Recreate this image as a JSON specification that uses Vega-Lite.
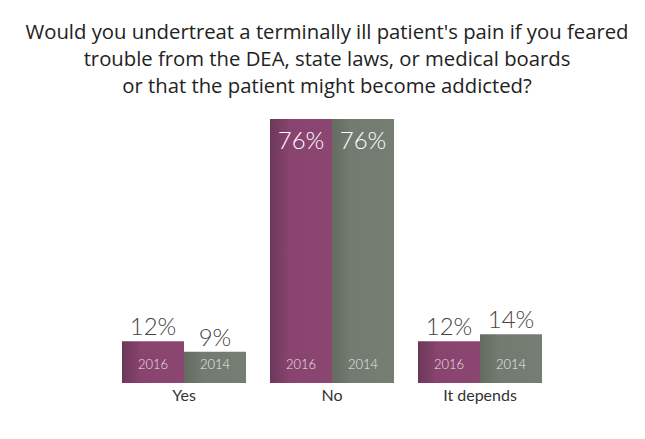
{
  "$schema": "https://vega.github.io/schema/vega-lite/v6.json",
  "width": 444,
  "height": 264,
  "autosize": {"type": "none"},
  "padding": {"left": 110, "top": 119, "right": 91, "bottom": 56},
  "background": "white",
  "title": {
    "text": ["Would you undertreat a terminally ill patient's pain if you feared", "trouble from the DEA, state laws, or medical boards", "or that the patient might become addicted?"],
    "font": "Open Sans",
    "fontSize": 20.3,
    "fontWeight": "normal",
    "color": "#222222",
    "lineHeight": 27,
    "anchor": "middle",
    "frame": "group",
    "dx": -5,
    "offset": 22
  },
  "data": {
    "values": [
      {"cat": "Yes", "year": "2016", "value": 12, "label": "12%"},
      {"cat": "Yes", "year": "2014", "value": 9, "label": "9%"},
      {"cat": "No", "year": "2016", "value": 76, "label": "76%"},
      {"cat": "No", "year": "2014", "value": 76, "label": "76%"},
      {"cat": "It depends", "year": "2016", "value": 12, "label": "12%"},
      {"cat": "It depends", "year": "2014", "value": 14, "label": "14%"}
    ]
  },
  "encoding": {
    "x": {
      "field": "cat",
      "type": "nominal",
      "sort": ["Yes", "No", "It depends"],
      "scale": {"paddingInner": 0.162, "paddingOuter": 0.081},
      "axis": {"title": null, "labelAngle": 0, "domain": false, "ticks": false, "labelFont": "Lato", "labelFontSize": 16, "labelColor": "#333333", "labelPadding": 4}
    },
    "xOffset": {"field": "year", "type": "nominal", "sort": ["2016", "2014"], "scale": {"paddingInner": 0, "paddingOuter": 0}},
    "y": {"field": "value", "type": "quantitative", "scale": {"domain": [0, 76]}, "axis": null}
  },
  "layer": [
    {
      "transform": [{"filter": "datum.year === '2016'"}],
      "mark": {"type": "bar", "color": {"gradient": "linear", "x1": 0, "x2": 1, "y1": 0, "y2": 0, "stops": [{"offset": 0, "color": "#6c3859"}, {"offset": 0.3, "color": "#88436e"}, {"offset": 1, "color": "#8c4672"}]}}
    },
    {
      "transform": [{"filter": "datum.year === '2014'"}],
      "mark": {"type": "bar", "color": {"gradient": "linear", "x1": 0, "x2": 1, "y1": 0, "y2": 0, "stops": [{"offset": 0, "color": "#646c61"}, {"offset": 0.3, "color": "#737b71"}, {"offset": 1, "color": "#767e74"}]}}
    },
    {
      "mark": {"type": "text", "font": "Lato", "fontSize": 13, "fontWeight": 300, "color": "#ffffff", "opacity": 0.85, "baseline": "alphabetic", "dy": -14},
      "encoding": {"y": {"datum": 0}, "text": {"field": "year"}}
    },
    {
      "transform": [{"filter": "datum.value < 50"}],
      "mark": {"type": "text", "font": "Lato", "fontSize": 24, "fontWeight": 300, "color": "#444444", "baseline": "alphabetic", "dy": -6},
      "encoding": {"text": {"field": "label"}}
    },
    {
      "transform": [{"filter": "datum.value >= 50"}],
      "mark": {"type": "text", "font": "Lato", "fontSize": 24, "fontWeight": 300, "color": "#ffffff", "baseline": "alphabetic", "dy": 30},
      "encoding": {"text": {"field": "label"}}
    }
  ],
  "config": {"view": {"stroke": null}}
}
